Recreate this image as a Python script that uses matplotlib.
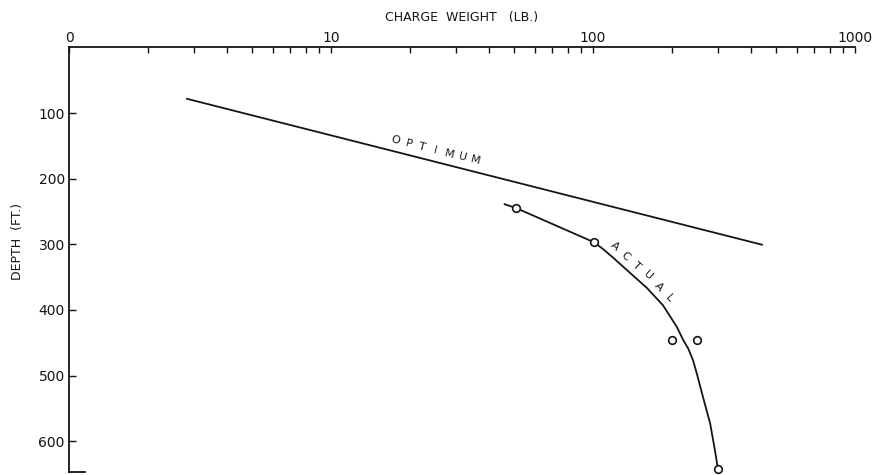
import numpy as np
import matplotlib
matplotlib.use("Agg")
import matplotlib.pyplot as plt
import matplotlib.transforms as mtransforms

# Optimum charge line (weight in lb, depth in ft)
optimum_weight = [2.8, 445]
optimum_depth = [78, 301]

# Actual charge curve
actual_weight = [46, 51, 101, 109, 119, 138, 161, 185, 209, 221, 231, 241, 249, 263, 280, 292, 300]
actual_depth = [239, 245, 297, 307, 320, 343, 367, 393, 426, 446, 459, 477, 497, 533, 573, 614, 643]

# Measured shots
shot_weight = [51, 101, 200, 250, 300]
shot_depth = [245, 297, 446, 446, 643]

x_major = [1, 10, 100, 1000]
x_major_labels = ["0", "10", "100", "1000"]
y_ticks = [100, 200, 300, 400, 500, 600]

INK = "#151515"


def letters_along(ax, xs, ys, text, start_px, step_px, offset_px, size):
    """Place letters one by one along a data path, offset to its upper side."""
    pts = ax.transData.transform(np.column_stack([xs, ys]))
    seg = np.diff(pts, axis=0)
    seglen = np.hypot(seg[:, 0], seg[:, 1])
    cum = np.concatenate([[0], np.cumsum(seglen)])
    for i, ch in enumerate(text):
        s = start_px + i * step_px
        k = int(np.clip(np.searchsorted(cum, s) - 1, 0, len(seg) - 1))
        t = (s - cum[k]) / seglen[k]
        p = pts[k] + t * seg[k]
        d = seg[k] / seglen[k]
        n = np.array([-d[1], d[0]])
        pos = p + offset_px * n
        ang = np.degrees(np.arctan2(d[1], d[0]))
        ax.text(pos[0], pos[1], ch, transform=mtransforms.IdentityTransform(),
                rotation=ang, rotation_mode="anchor", ha="center", va="center",
                fontsize=size, color=INK)
    return cum


fig = plt.figure(figsize=(8.75, 4.75), dpi=100)
ax = fig.add_axes([69 / 875, 1 - 472 / 475, 786 / 875, 424.6 / 475])

ax.set_xscale("log")
ax.set_xlim(1, 1000)
ax.set_ylim(647, 0)

ax.plot(optimum_weight, optimum_depth, color=INK, lw=1.3, solid_capstyle="butt")
ax.plot(actual_weight, actual_depth, color=INK, lw=1.3)
ax.plot(shot_weight, shot_depth, linestyle="none", marker="o", markersize=5.5,
        markerfacecolor="white", markeredgecolor=INK, markeredgewidth=1.2,
        clip_on=False, zorder=3)

# Axis styling: scale along the top, depth down the left side
ax.xaxis.tick_top()
ax.xaxis.set_label_position("top")
ax.set_xticks(x_major)
ax.set_xticklabels(x_major_labels)
ax.set_xticks([m * 10 ** e for e in range(3) for m in range(2, 10)], minor=True)
ax.xaxis.set_minor_formatter(plt.NullFormatter())
ax.tick_params(axis="x", which="both", direction="in", length=4, width=1,
               colors=INK, labelsize=10, pad=2)

ax.set_yticks(y_ticks)
ax.tick_params(axis="y", which="both", direction="in", length=5, width=1,
               colors=INK, labelsize=10, pad=3)
ax.yaxis.set_minor_locator(plt.NullLocator())

for side in ["top", "left"]:
    ax.spines[side].set_color(INK)
    ax.spines[side].set_linewidth(1.3)
ax.spines["right"].set_visible(False)
ax.spines["bottom"].set_color(INK)
ax.spines["bottom"].set_linewidth(1.3)
ax.spines["bottom"].set_bounds(1, 1.15)

ax.set_xlabel("CHARGE  WEIGHT   (LB.)", fontsize=9, color=INK, labelpad=7)
ax.set_ylabel("DEPTH  (FT.)", fontsize=9, color=INK)
ax.yaxis.set_label_coords(-0.057, 0.544)

# Curve names written along the lines
letters_along(ax, optimum_weight, optimum_depth, "OPTIMUM",
              start_px=213, step_px=13.8, offset_px=11, size=8)
pts = ax.transData.transform(np.column_stack([actual_weight, actual_depth]))
arc = np.concatenate([[0], np.cumsum(np.hypot(*np.diff(pts, axis=0).T))])
letters_along(ax, actual_weight, actual_depth, "ACTUAL",
              start_px=arc[2] + 18, step_px=14.8, offset_px=9.5, size=8)

fig.savefig("out.png", dpi=100)
